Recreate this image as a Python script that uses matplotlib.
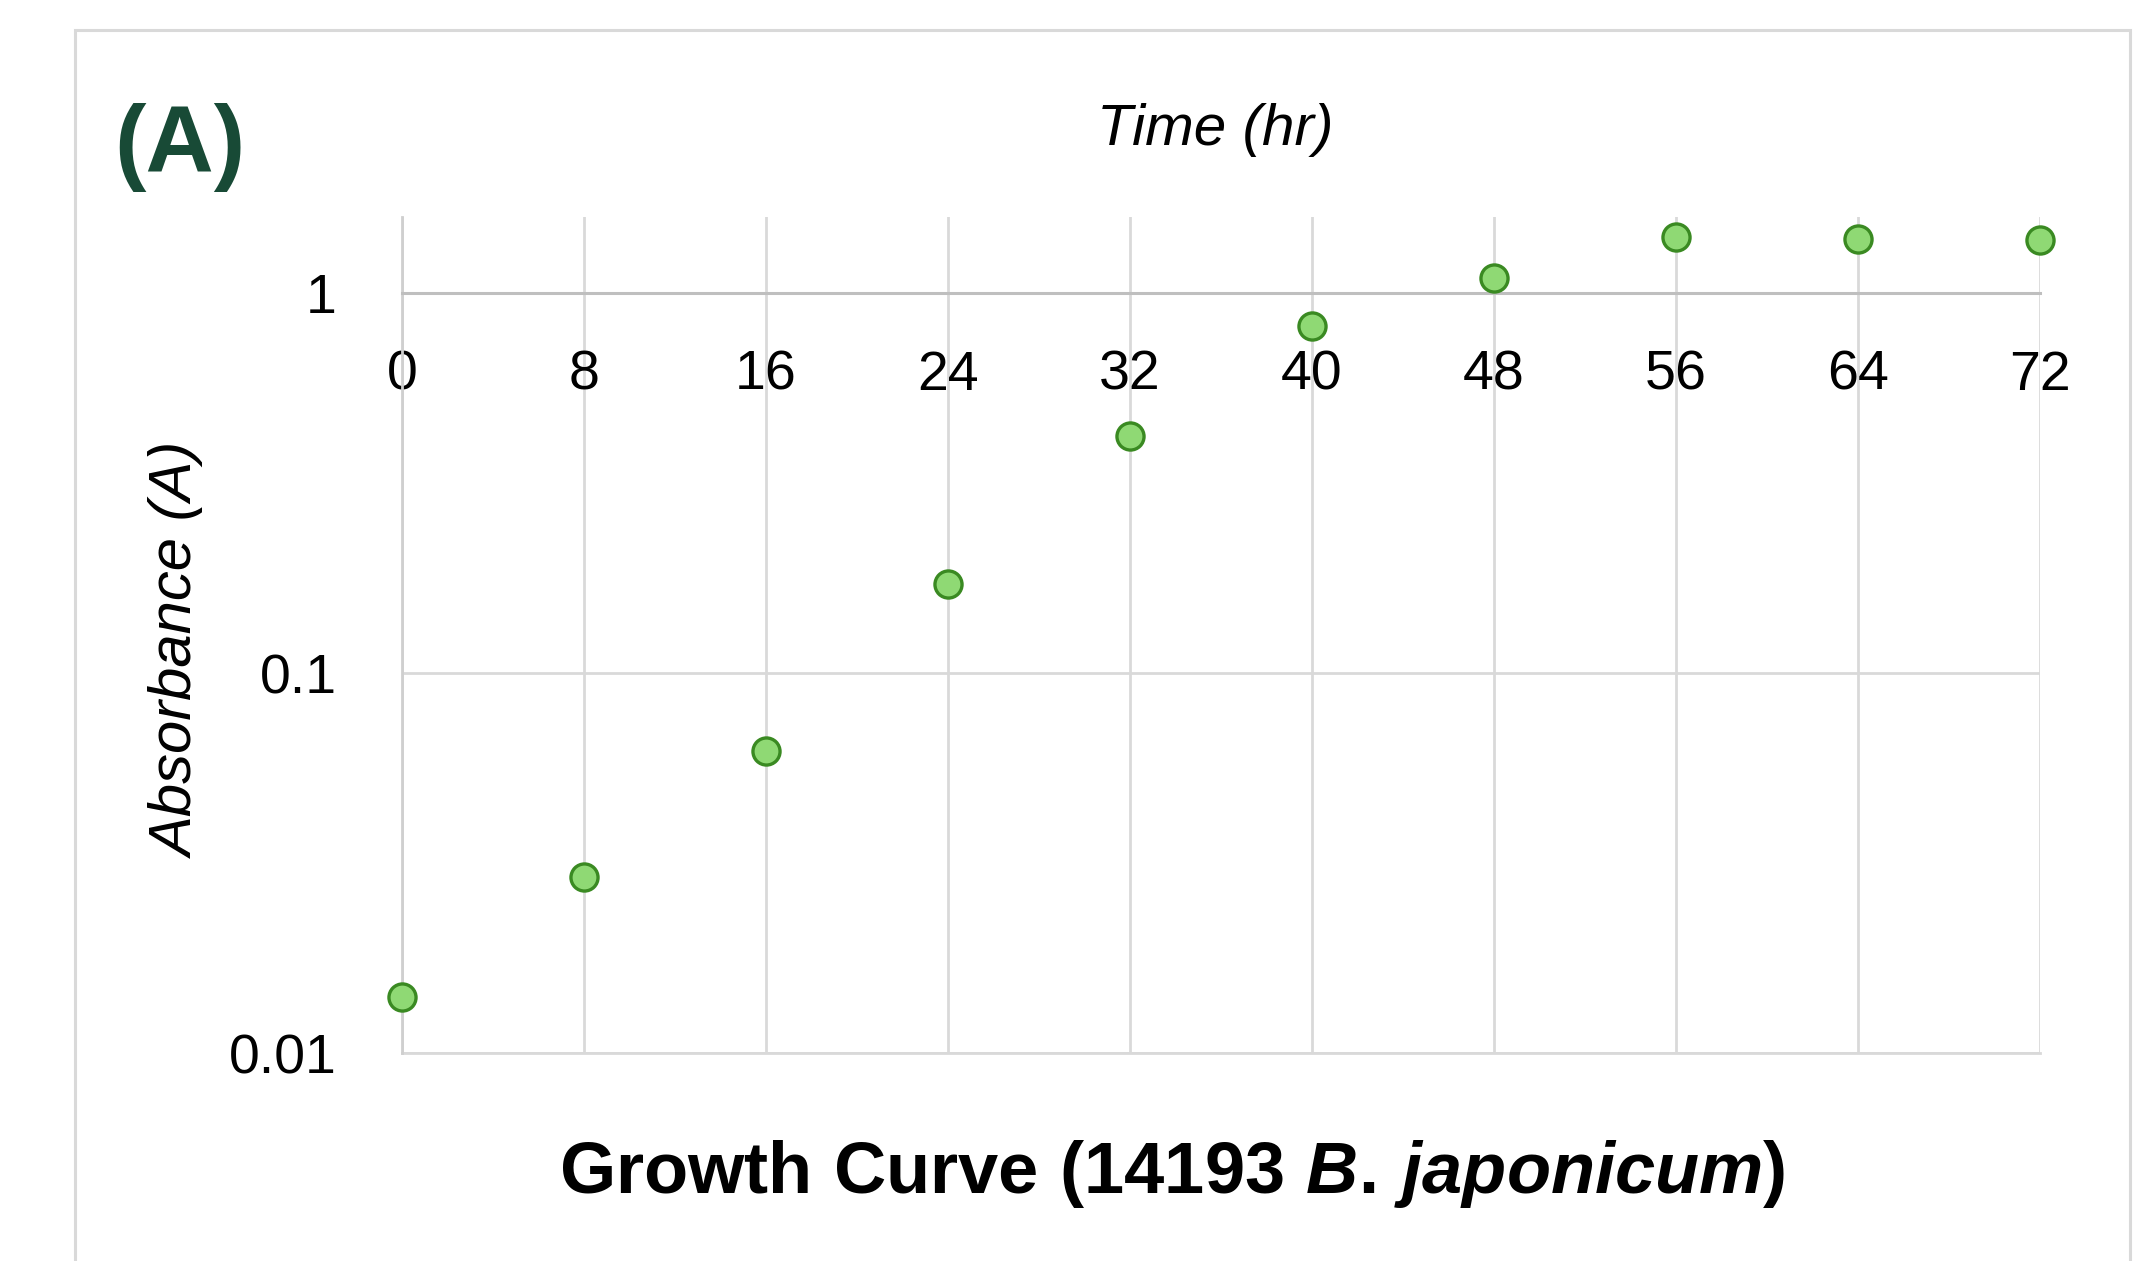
import matplotlib
matplotlib.use("Agg")
import matplotlib.pyplot as plt
from matplotlib.patches import Rectangle
from matplotlib.ticker import NullLocator

# --- data ---
hours = [0, 8, 16, 24, 32, 40, 48, 56, 64, 72]
absorbance = [0.0140, 0.0290, 0.0623, 0.172, 0.420, 0.819, 1.095, 1.40, 1.387, 1.377]
x_ticks = [0, 8, 16, 24, 32, 40, 48, 56, 64, 72]
y_ticks = [0.01, 0.1, 1]
y_tick_labels = ["0.01", "0.1", "1"]

plt.rcParams["font.family"] = ["Liberation Sans", "DejaVu Sans"]
plt.rcParams["mathtext.fontset"] = "custom"
plt.rcParams["mathtext.bf"] = "Liberation Sans:bold"
plt.rcParams["mathtext.it"] = "Liberation Sans:italic:bold"
plt.rcParams["mathtext.rm"] = "Liberation Sans:bold"

W, H = 2138, 1261
fig = plt.figure(figsize=(W / 100, H / 100), dpi=100)
fig.patch.set_facecolor("white")

# axes box in pixels: left 402, right 2040, top 217, bottom 1053
ax = fig.add_axes([402 / W, 1 - 1053 / H, (2040 - 402) / W, (1053 - 217) / H])
ax.set_yscale("log")
ax.set_xlim(0, 72)
ax.set_ylim(0.01, 1.585)

grid_col = "#D9D9D9"
ax.grid(True, axis="both", color=grid_col, linewidth=2.0)
ax.set_axisbelow(True)
ax.axhline(0.01, color=grid_col, linewidth=2.0, clip_on=False, zorder=0.5)

for s in ["top", "right"]:
    ax.spines[s].set_visible(False)
ax.spines["left"].set_color("#CFCFCF")
ax.spines["left"].set_linewidth(2.0)
ax.spines["bottom"].set_position(("data", 1))
ax.spines["bottom"].set_color("#BFBFBF")
ax.spines["bottom"].set_linewidth(2.2)

ax.set_xticks(x_ticks)
ax.set_xticklabels([str(t) for t in x_ticks])
ax.set_yticks(y_ticks)
ax.set_yticklabels(y_tick_labels)
ax.yaxis.set_minor_locator(NullLocator())
ax.tick_params(axis="x", length=0, pad=41, labelsize=40)
ax.tick_params(axis="y", length=0, pad=47, labelsize=40)

ax.plot(hours, absorbance, linestyle="none", marker="o", markersize=19.5,
        markerfacecolor="#8FD974", markeredgecolor="#3A8A22",
        markeredgewidth=2.4, clip_on=False, zorder=5)

# labels
fig.text(1215 / W, 1 - 145 / H, "Time (hr)", ha="center", va="baseline",
         fontsize=42, style="italic")
fig.text(178 / W, 1 - 650 / H, "Absorbance (A)", ha="center", va="center",
         rotation=90, fontsize=43, style="italic")
fig.text(1172 / W, 1 - 1193 / H,
         r"$\mathbf{Growth\ Curve\ (14193\ }\mathit{B.\,japonicum}\mathbf{)}$",
         ha="center", va="baseline", fontsize=52)
fig.text(114 / W, 1 - 172 / H, "(A)", ha="left", va="baseline", fontsize=68,
         fontweight="bold", color="#184A36")

# outer frame (bottom edge runs off the image)
frame = Rectangle((75 / W, -0.1), (2130 - 75) / W, (H - 30) / H + 0.1,
                  transform=fig.transFigure, fill=False,
                  edgecolor="#D9D9D9", linewidth=2.2)
fig.patches.append(frame)

fig.savefig("out.png", dpi=100)
